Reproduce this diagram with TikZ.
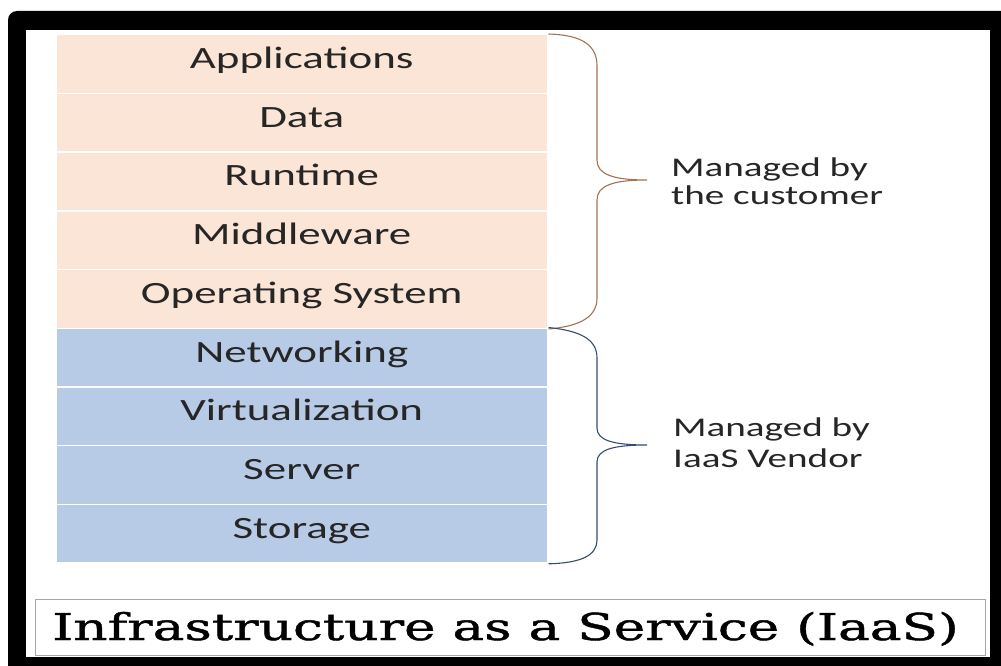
\documentclass[tikz,border=0pt]{standalone}
\usepackage{fontspec}
\setmainfont{Carlito}[FakeStretch=1.45]
\newfontfamily\titlefont{DejaVu Serif}[FakeStretch=1.44, FakeBold=1.2]
\definecolor{peach}{RGB}{251,229,214}
\definecolor{steel}{RGB}{184,203,230}
\definecolor{inktext}{RGB}{38,38,38}
\definecolor{bracebrown}{RGB}{165,115,80}
\definecolor{braceblue}{RGB}{55,75,115}
\begin{document}
\begin{tikzpicture}[x=1pt,y=-1pt,
  layerbox/.style={draw=white, line width=1.5pt, minimum width=492pt,
    minimum height=58.7pt, inner sep=0pt, anchor=north west,
    text height=18pt, text depth=9pt,
    font=\fontsize{31}{36}\selectfont, text=inktext},
  bracelabel/.style={anchor=west, align=left, inner sep=0pt, text=inktext},
  bracepath/.style={line width=1.1pt}]
\useasboundingbox (0,0) rectangle (1001,666);
% outer frame
\fill[black, rounded corners=9pt] (8,11) rectangle (1040,700);
\fill[white] (26,30) rectangle (990,657);
% the layer stack
\foreach \n/\t/\c [count=\i from 0] in {r1/Applications/peach, r2/Data/peach,
    r3/Runtime/peach, r4/Middleware/peach, r5/Operating System/peach,
    r6/Networking/steel, r7/Virtualization/steel, r8/Server/steel, r9/Storage/steel}
  \node[layerbox, fill=\c] (\n) at (55,{34+\i*58.7}) {\t};
% braces
\draw[bracepath, bracebrown] (r1.north east)
  .. controls (582,35) and (597,45) .. (597,66) -- (597,160)
  .. controls (597,174) and (612,180) .. (647,180)
  .. controls (612,180) and (597,186) .. (597,200) -- (597,298)
  .. controls (597,316) and (582,326) .. (r5.south east);
\draw[bracepath, braceblue] (r6.north east)
  .. controls (582,331) and (597,340) .. (597,358) -- (597,428)
  .. controls (597,440) and (612,445) .. (647,445)
  .. controls (612,445) and (597,450) .. (597,462) -- (597,540)
  .. controls (597,555) and (582,563) .. (r9.south east);
% labels
\node[bracelabel, font=\fontsize{27}{28}\selectfont] (cust) at (671,181)
  {Managed by\\the customer};
\node[bracelabel, font=\fontsize{27}{31}\selectfont] (vend) at (673,443)
  {Managed by\\IaaS Vendor};
% title
\node[draw=gray!70, line width=1pt, minimum width=950pt, minimum height=56pt,
  inner sep=0pt] (titlebox) at (510,627) {};
\node[anchor=base west, inner sep=0pt, font=\titlefont\fontsize{37}{40}\selectfont, text=black]
  (title) at (52,640) {Infrastructure as a Service (IaaS)};
\end{tikzpicture}
\end{document}
